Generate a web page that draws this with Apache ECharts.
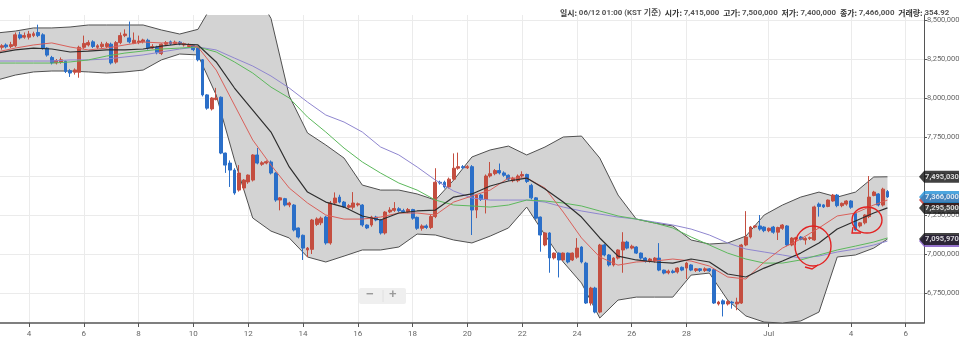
<!DOCTYPE html>
<html><head><meta charset="utf-8">
<script src="https://cdn.jsdelivr.net/npm/echarts@6/dist/echarts.min.js"></script>
<style>html,body{margin:0;padding:0;background:#fff;}#c{width:960px;height:346px;}</style>
</head><body><div id="c"></div>
<script>
// ---- time grid: 4-hour candles starting Jun 2 20:00 ----
const startTime = Date.UTC(2018, 5, 2, 20);
const stepHours = 4;
const slotCount = 204;
const tickDates  = ['06-04','06-06','06-08','06-10','06-12','06-14','06-16','06-18','06-20','06-22','06-24','06-26','06-28','07-01','07-04','07-06'];
const tickLabels = ['4','6','8','10','12','14','16','18','20','22','24','26','28','Jul','4','6'];
const yTicks = [6750000,7000000,7250000,7500000,7750000,8000000,8250000,8500000];

// ---- candles [open, close, low, high] ----
const candles = [
[8320000,8330000,8305000,8340000],[8325000,8335000,8310000,8345000],[8340000,8328000,8318000,8350000],[8330000,8342000,8320000,8360000],
[8335000,8405000,8325000,8420000],[8405000,8385000,8375000,8425000],[8390000,8400000,8380000,8420000],[8390000,8410000,8375000,8430000],
[8400000,8412000,8390000,8425000],[8420000,8400000,8390000,8470000],[8405000,8320000,8310000,8415000],[8320000,8275000,8265000,8325000],
[8260000,8225000,8215000,8270000],[8225000,8240000,8215000,8250000],[8230000,8245000,8220000,8260000],[8235000,8170000,8160000,8240000],
[8175000,8160000,8135000,8185000],[8165000,8180000,8150000,8190000],[8165000,8325000,8130000,8335000],[8325000,8350000,8315000,8400000],
[8340000,8355000,8330000,8370000],[8360000,8330000,8320000,8370000],[8325000,8335000,8315000,8345000],[8330000,8345000,8320000,8360000],
[8330000,8348000,8320000,8360000],[8345000,8225000,8215000,8355000],[8230000,8355000,8220000,8365000],[8355000,8400000,8345000,8420000],
[8400000,8410000,8390000,8440000],[8385000,8360000,8350000,8490000],[8350000,8370000,8345000,8420000],[8355000,8365000,8345000,8400000],
[8360000,8372000,8350000,8380000],[8370000,8320000,8310000,8380000],[8320000,8330000,8315000,8345000],[8325000,8290000,8280000,8335000],
[8285000,8345000,8275000,8350000],[8345000,8355000,8335000,8365000],[8360000,8348000,8340000,8368000],[8350000,8358000,8342000,8368000],
[8358000,8348000,8338000,8365000],[8340000,8348000,8330000,8355000],[8330000,8338000,8322000,8350000],[8335000,8310000,8300000,8340000],
[8320000,8245000,8235000,8330000],[8245000,8020000,8010000,8250000],[8020000,7935000,7925000,8025000],[7930000,8000000,7920000,8005000],
[7990000,8000000,7985000,8065000],[8005000,7647000,7640000,8010000],[7647000,7570000,7520000,7650000],[7583000,7538000,7430000,7600000],
[7538000,7391000,7380000,7550000],[7410000,7519000,7400000,7570000],[7423000,7474000,7410000,7480000],[7462000,7506000,7450000,7510000],
[7474000,7635000,7465000,7640000],[7635000,7583000,7575000,7680000],[7575000,7585000,7565000,7595000],[7583000,7592000,7575000,7600000],
[7590000,7519000,7510000,7600000],[7519000,7346000,7335000,7525000],[7346000,7360000,7280000,7365000],[7355000,7314000,7305000,7360000],
[7315000,7327000,7300000,7335000],[7314000,7154000,7145000,7320000],[7167000,7109000,7100000,7170000],[7120000,7038000,6962000,7125000],
[7026000,7038000,6980000,7045000],[7030000,7218000,7000000,7225000],[7190000,7225000,7180000,7235000],[7200000,7230000,7185000,7240000],
[7237000,7071000,7060000,7245000],[7071000,7327000,7060000,7340000],[7327000,7359000,7320000,7395000],[7365000,7333000,7325000,7380000],
[7333000,7302000,7295000,7340000],[7300000,7310000,7290000,7320000],[7300000,7327000,7285000,7397000],[7315000,7322000,7305000,7330000],
[7314000,7186000,7175000,7320000],[7186000,7167000,7160000,7190000],[7186000,7237000,7175000,7245000],[7237000,7218000,7210000,7245000],
[7218000,7135000,7125000,7225000],[7135000,7269000,7125000,7275000],[7270000,7282000,7262000,7300000],[7280000,7292000,7270000,7333000],
[7290000,7278000,7270000,7300000],[7278000,7270000,7262000,7290000],[7270000,7285000,7262000,7295000],[7285000,7230000,7220000,7290000],
[7235000,7165000,7155000,7240000],[7165000,7180000,7150000,7190000],[7180000,7170000,7160000,7190000],[7170000,7240000,7160000,7250000],
[7240000,7460000,7230000,7550000],[7460000,7455000,7445000,7470000],[7460000,7430000,7420000,7470000],[7430000,7480000,7420000,7490000],
[7480000,7550000,7470000,7645000],[7550000,7560000,7540000,7650000],[7560000,7553000,7545000,7570000],[7553000,7560000,7545000,7570000],
[7560000,7282000,7122000,7570000],[7282000,7378000,7230000,7385000],[7378000,7350000,7340000,7385000],[7350000,7500000,7260000,7510000],
[7500000,7515000,7490000,7590000],[7515000,7535000,7505000,7545000],[7535000,7520000,7510000,7580000],[7520000,7505000,7495000,7530000],
[7505000,7480000,7470000,7510000],[7470000,7485000,7460000,7495000],[7470000,7500000,7460000,7510000],[7500000,7510000,7490000,7530000],
[7510000,7465000,7455000,7515000],[7440000,7360000,7350000,7450000],[7360000,7230000,7220000,7365000],[7237000,7122000,7015000,7240000],
[7058000,7135000,7050000,7140000],[7135000,6975000,6880000,7140000],[6975000,7006000,6965000,7010000],[7006000,6962000,6850000,7010000],
[6962000,7006000,6955000,7010000],[7006000,6949000,6940000,7010000],[6962000,7006000,6955000,7010000],[6980000,7038000,6970000,7102000],
[7045000,6949000,6940000,7050000],[6942000,6686000,6680000,6950000],[6686000,6782000,6670000,6790000],[6782000,6628000,6620000,6790000],
[6628000,7058000,6620000,7065000],[7058000,6994000,6985000,7065000],[6994000,6930000,6920000,7000000],[6930000,6974000,6920000,6980000],
[6974000,7026000,6965000,7030000],[7026000,7077000,6880000,7140000],[7077000,7038000,7030000,7085000],[7038000,7050000,7030000,7060000],
[7045000,7006000,7000000,7050000],[7006000,6974000,6965000,7010000],[6974000,6955000,6945000,6980000],[6955000,6968000,6945000,6975000],
[6955000,6974000,6945000,6980000],[6974000,6897000,6890000,7070000],[6897000,6878000,6870000,6900000],[6880000,6890000,6870000,6900000],
[6890000,6882000,6875000,6900000],[6885000,6910000,6875000,6915000],[6915000,6897000,6890000,6920000],[6910000,6942000,6840000,6950000],
[6930000,6897000,6890000,6935000],[6895000,6905000,6885000,6910000],[6905000,6895000,6885000,6910000],[6895000,6905000,6885000,6915000],
[6905000,6892000,6885000,6910000],[6900000,6686000,6680000,6905000],[6680000,6692000,6670000,6700000],[6700000,6680000,6600000,6710000],
[6680000,6695000,6670000,6705000],[6692000,6686000,6650000,6700000],[6680000,6692000,6640000,6720000],[6686000,7058000,6680000,7065000],
[7058000,7109000,7050000,7275000],[7109000,7173000,7100000,7180000],[7173000,7180000,7165000,7185000],[7180000,7160000,7150000,7250000],
[7173000,7150000,7140000,7178000],[7150000,7165000,7140000,7170000],[7173000,7140000,7130000,7180000],[7140000,7170000,7090000,7175000],
[7165000,7186000,7155000,7192000],[7180000,7058000,7050000,7185000],[7058000,7102000,7050000,7108000],[7095000,7105000,7060000,7110000],
[7109000,7095000,7088000,7115000],[7090000,7100000,7060000,7108000],[7100000,7105000,7090000,7112000],[7090000,7302000,7085000,7310000],
[7320000,7305000,7240000,7330000],[7315000,7302000,7295000,7320000],[7305000,7346000,7300000,7350000],[7340000,7378000,7335000,7385000],
[7378000,7310000,7300000,7385000],[7310000,7325000,7300000,7330000],[7320000,7340000,7310000,7345000],[7340000,7300000,7290000,7345000],
[7260000,7154000,7150000,7265000],[7180000,7200000,7170000,7205000],[7200000,7250000,7190000,7255000],[7240000,7365000,7230000,7500000],
[7375000,7397000,7370000,7405000],[7385000,7314000,7305000,7390000],[7314000,7416000,7305000,7425000],[7400000,7366000,7360000,7410000]
];

// ---- indicator lines, read at these candle slots ----
const lineSlots = [0,4,8,12,16,20,24,28,32,36,40,44,48,52,56,60,64,68,72,76,80,84,88,92,96,100,104,108,112,116,120,124,128,132,136,140,144,148,152,156,160,164,168,172,176,180,184,188,192,195];
const upperBand = [8417000,8429000,8449000,8449000,8455000,8468000,8468000,8468000,8468000,8436000,8410000,8440000,
8640000,8720000,8710000,8510000,8013000,7776000,7699000,7615000,7442000,7410000,7410000,7385000,7346000,7474000,7622000,7667000,7692000,7635000,7686000,7750000,7756000,7615000,7378000,7224000,7199000,7180000,7090000,7064000,7071000,7115000,7250000,7314000,7365000,7397000,7365000,7397000,7494000,7495030];
const lowerBand = [8115000,8147000,8167000,8173000,8173000,8167000,8160000,8167000,8179000,8244000,8282000,8276000,
8019000,7603000,7231000,7147000,7103000,6981000,6949000,6987000,7026000,7026000,7045000,7128000,7122000,7090000,7071000,7115000,7167000,7301000,7122000,6949000,6814000,6590000,6705000,6724000,6724000,6724000,6865000,6878000,6705000,6603000,6564000,6558000,6571000,6628000,6981000,6994000,7038000,7095970];
const bbMid = [8288000,8308000,8320000,8314000,8295000,8301000,8308000,8308000,8314000,8333000,8346000,8340000,
8231000,8064000,7923000,7782000,7558000,7397000,7333000,7301000,7244000,7218000,7263000,7276000,7282000,7365000,7385000,7436000,7468000,7487000,7417000,7333000,7237000,7103000,6987000,6962000,6949000,6942000,6968000,6949000,6872000,6853000,6910000,6955000,7006000,7071000,7160000,7212000,7263000,7295500];
const maShort = [8295000,8320000,8340000,8353000,8327000,8308000,8320000,8340000,8359000,8353000,8353000,8327000,
8179000,7955000,7731000,7570000,7423000,7327000,7250000,7224000,7224000,7237000,7263000,7263000,7250000,7333000,7372000,7410000,7487000,7487000,7423000,7269000,7103000,6981000,6929000,6949000,6955000,6968000,6955000,6923000,6853000,6840000,6949000,7038000,7096000,7167000,7244000,7263000,7314000,7346000];
const maMid = [8224000,8224000,8224000,8224000,8231000,8244000,8269000,8288000,8301000,8314000,8320000,8327000,
8295000,8231000,8160000,8070000,8000000,7878000,7782000,7679000,7590000,7519000,7455000,7410000,7346000,7314000,7308000,7301000,7314000,7346000,7340000,7327000,7308000,7276000,7244000,7224000,7199000,7167000,7109000,7058000,7006000,6968000,6942000,6942000,6962000,6994000,7026000,7051000,7077000,7103000];
const maLong = [8237000,8237000,8237000,8237000,8244000,8244000,8250000,8263000,8276000,8295000,8314000,8327000,
8308000,8256000,8205000,8141000,8064000,7974000,7891000,7846000,7782000,7686000,7635000,7558000,7474000,7404000,7359000,7346000,7346000,7346000,7333000,7301000,7276000,7256000,7237000,7224000,7205000,7186000,7160000,7122000,7071000,7032000,7013000,6994000,6974000,6987000,7013000,7032000,7058000,7083000];

// ---- build category axis ----
const pad = n => String(n).padStart(2,'0');
const categories = [];
for (let i = 0; i < slotCount; i++) {
  const d = new Date(startTime + i * stepHours * 3600e3);
  categories.push(pad(d.getUTCMonth()+1) + '-' + pad(d.getUTCDate()) + ' ' + pad(d.getUTCHours()) + ':00');
}
const isTick = (idx, val) => { const v = val || categories[idx]; return v.slice(6) === '00:00' && tickDates.indexOf(v.slice(0,5)) >= 0; };
const pts = arr => lineSlots.map((s, i) => [s, arr[i]]);
const last = a => a[a.length - 1];
const fmt = v => Math.round(v).toLocaleString('en-US');
const lastSlot = slotCount - 1;

const RED = '#c44e40', BLUE = '#2b6fc8';
const lineBase = { type:'line', symbol:'none', smooth:false, silent:true, animation:false };

const tagPath = 'path://M0,6 L6,0 L46,0 L46,12 L6,12 Z';
const tagItem = (v, color, showText) => ({ value:[lastSlot, v], itemStyle:{color}, label:{ show:showText, formatter: fmt(v) } });

const chart = echarts.init(document.getElementById('c'), null, {renderer:'canvas'});
chart.setOption({
  animation:false,
  textStyle:{ fontFamily:'Roboto, "Noto Sans CJK KR", sans-serif' },
  title:{
    left:555, top:4,
    text:'{k|일시: }{v|06/12 01:00 (KST 기준)  }{k|시가: }{v|7,415,000  }{k|고가: }{v|7,500,000  }{k|저가: }{v|7,400,000  }{k|종가: }{v|7,466,000  }{k|거래량: }{v|354.92}',
    textStyle:{ fontSize:7.9, rich:{
      k:{ fontSize:7.9, fontWeight:'bold', color:'#333', fontFamily:'"Noto Sans CJK KR", sans-serif' },
      v:{ fontSize:7.9, color:'#555', fontFamily:'Roboto, "Noto Sans CJK KR", sans-serif' }
    }}
  },
  grid:{ left:-3, right:36, top:15, bottom:23, containLabel:false, outerBoundsMode:'none' },
  xAxis:{
    type:'category', data:categories, boundaryGap:false,
    axisLine:{ lineStyle:{ color:'#555', width:1.5 } },
    axisTick:{ interval:isTick, length:4, lineStyle:{ color:'#555' } },
    axisLabel:{ interval:isTick, fontSize:8, color:'#666', margin:7,
      formatter:(v) => { const k = tickDates.indexOf(v.slice(0,5)); return k >= 0 ? tickLabels[k] : ''; } },
    splitLine:{ show:true, interval:isTick, lineStyle:{ color:'#ebebeb' } }
  },
  yAxis:{
    type:'value', position:'right', min:6558000, max:8532000, scale:true,
    axisLine:{ show:true, lineStyle:{ color:'#555' } },
    axisTick:{ show:true, length:3, customValues:yTicks, lineStyle:{ color:'#555' } },
    axisLabel:{ customValues:yTicks, fontSize:7.5, color:'#666', margin:3, formatter:fmt },
    splitLine:{ show:true, lineStyle:{ color:'#ebebeb' } }
  },
  graphic:[
    { type:'rect', left:359, top:288, shape:{ width:47, height:16, r:2 }, style:{ fill:'#efefef' }, z:100 },
    { type:'line', shape:{ x1:383, y1:290, x2:383, y2:302 }, style:{ stroke:'#e0e0e0', lineWidth:1 }, z:101 },
    { type:'text', left:366, top:288, style:{ text:'−', fill:'#9a9a9a', fontSize:13, fontWeight:'bold' }, z:101 },
    { type:'text', left:389, top:288, style:{ text:'+', fill:'#9a9a9a', fontSize:13, fontWeight:'bold' }, z:101 },
    { type:'ellipse', shape:{ cx:813, cy:246, rx:18, ry:20 }, style:{ fill:'none', stroke:'#e32222', lineWidth:1.4 }, z:100 },
    { type:'polyline', shape:{ points:[[818,265],[812,269],[805,267]] }, style:{ fill:'none', stroke:'#e32222', lineWidth:1.4 }, z:100 },
    { type:'ellipse', shape:{ cx:867, cy:220, rx:15, ry:13 }, style:{ fill:'none', stroke:'#e32222', lineWidth:1.4 }, z:100 },
    { type:'polyline', shape:{ points:[[853,227],[852,233],[861,233]] }, style:{ fill:'none', stroke:'#e32222', lineWidth:1.4 }, z:100 }
  ],
  series:[
    Object.assign({}, lineBase, { name:'bbBase', data:pts(lowerBand), stack:'bb', lineStyle:{ width:0, opacity:0 }, z:1 }),
    Object.assign({}, lineBase, { name:'bbFill', data:lineSlots.map((s,i)=>[s, upperBand[i]-lowerBand[i]]), stack:'bb',
      lineStyle:{ width:0, opacity:0 }, areaStyle:{ color:'#d3d3d3', opacity:1 }, z:1 }),
    Object.assign({}, lineBase, { name:'upper', data:pts(upperBand), lineStyle:{ color:'#505050', width:1 }, z:2 }),
    Object.assign({}, lineBase, { name:'lower', data:pts(lowerBand), lineStyle:{ color:'#505050', width:1 }, z:2 }),
    { type:'candlestick', name:'price', data:candles, barWidth:3.4, z:3, silent:true,
      itemStyle:{ color:RED, color0:BLUE, borderColor:RED, borderColor0:BLUE, borderWidth:1 } },
    Object.assign({}, lineBase, { name:'maLong', data:pts(maLong), lineStyle:{ color:'#8f86cf', width:1 }, z:4 }),
    Object.assign({}, lineBase, { name:'maMid', data:pts(maMid), lineStyle:{ color:'#5cb85c', width:1 }, z:4 }),
    Object.assign({}, lineBase, { name:'maShort', data:pts(maShort), lineStyle:{ color:'#d9605a', width:1 }, z:4 }),
    Object.assign({}, lineBase, { name:'mid', data:pts(bbMid), lineStyle:{ color:'#2e2e2e', width:1.2 }, z:4 }),
    { type:'scatter', name:'tags', clip:false, silent:true, z:10,
      symbol:tagPath, symbolSize:[40,12], symbolKeepAspect:false, symbolOffset:[15,0],
      label:{ show:true, position:'inside', offset:[3,0], color:'#fff', fontSize:7.5, fontWeight:'bold', fontFamily:'Roboto, sans-serif' },
      data:[
        tagItem(last(maLong), '#7a4fc0', false),
        tagItem(last(maShort), '#c9302c', false),
        tagItem(last(bbMid), '#111', true),
        tagItem(last(candles)[1], '#1f8fd6', true),
        tagItem(last(upperBand), '#111', true),
        tagItem(last(lowerBand), '#111', true)
      ] }
  ]
});
</script></body></html>
